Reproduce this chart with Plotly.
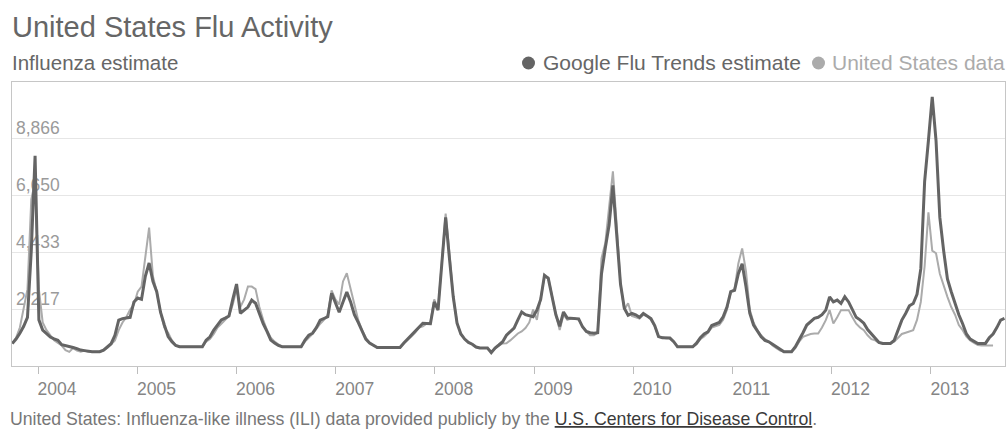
import pandas as pd
import plotly.graph_objects as go

# ---- data (biweekly samples) ----
start_date = "2003-09-28"

google = [
    880, 1050, 1280, 1550, 1900, 4500, 8200, 1800, 1400, 1250,
    1130, 1060, 1000, 830, 800, 760, 720, 680, 620, 600,
    570, 560, 560, 560, 620, 750, 870, 1200, 1790, 1850,
    1870, 1900, 2500, 2650, 2600, 3500, 4020, 3300, 2900, 2100,
    1600, 1150, 950, 800, 750, 750, 750, 750, 750, 750,
    750, 1010, 1140, 1400, 1600, 1800, 1870, 1950, 2600, 3200,
    2060, 2200, 2300, 2570, 2450, 2050, 1650, 1350, 1010, 900,
    800, 750, 750, 750, 750, 750, 750, 1010, 1200, 1280,
    1500, 1790, 1850, 1920, 2840, 2500, 2100, 2500, 2890, 2500,
    2000, 1700, 1350, 1050, 900, 800, 720, 720, 720, 720,
    720, 720, 720, 900, 1050, 1200, 1330, 1480, 1670, 1660,
    1650, 2500, 2180, 4000, 5800, 4200, 2700, 1670, 1250, 1050,
    920, 850, 740, 700, 700, 700, 520, 700, 820, 950,
    1200, 1330, 1480, 1800, 2110, 2000, 1950, 1920, 2180, 2600,
    3540, 3420, 2700, 2000, 1550, 2110, 1870, 1860, 1850, 1840,
    1530, 1350, 1300, 1280, 1300, 3600, 4600, 5500, 7050, 5000,
    3200, 2250, 1980, 2050, 2000, 1900, 2050, 1950, 1850, 1580,
    1150, 1100, 1090, 1090, 950, 750, 750, 750, 750, 750,
    890, 1100, 1250, 1330, 1580, 1640, 1700, 1920, 2300, 2900,
    2950, 3600, 3990, 3100, 2060, 1600, 1350, 1140, 1000, 945,
    850, 750, 650, 560, 560, 560, 750, 1010, 1300, 1600,
    1750, 1860, 1900, 2000, 2180, 2700, 2500, 2570, 2440, 2700,
    2500, 2200, 1900, 1800, 1670, 1420, 1250, 1090, 920, 880,
    880, 880, 1000, 1400, 1790, 2050, 2350, 2440, 2800, 3800,
    7200, 8800, 10500, 8800, 5800, 4500, 3400, 2900, 2400, 2000,
    1650, 1250, 1050, 950, 880, 880, 880, 1100, 1250, 1500,
    1790, 1860,
]

us_data = [
    880, 1100, 1500, 2200, 3000, 6500, 7200, 3000, 1700, 1400,
    1200, 1000, 900, 800, 620, 550, 700, 600, 560, 600,
    560, 560, 560, 560, 600, 700, 850, 1000, 1400, 1700,
    1900, 2200, 2400, 2900, 3100, 4200, 5400, 3500, 2900, 2100,
    1500, 1300, 1000, 800, 750, 750, 750, 750, 750, 750,
    750, 950, 1050, 1250, 1500, 1650, 1800, 1950, 2400, 3000,
    2300, 2600, 3100, 3100, 3000, 2300, 1800, 1400, 1100, 950,
    850, 750, 750, 750, 750, 750, 750, 950, 1100, 1250,
    1450, 1650, 1800, 2000, 2950, 2600, 2400, 3300, 3620, 3000,
    2300, 1800, 1400, 1100, 900, 800, 720, 720, 720, 720,
    720, 720, 720, 880, 1000, 1150, 1300, 1500, 1550, 1650,
    1700, 2600, 2200, 4200, 5950, 4400, 2700, 1700, 1250, 1050,
    920, 850, 740, 700, 700, 700, 560, 700, 800, 880,
    890, 1000, 1150, 1270, 1350, 1480, 1700, 2200, 1800, 2600,
    3500, 3450, 2700, 2000, 1400, 2000, 1800, 1850, 1850, 1800,
    1550, 1350, 1200, 1200, 1300, 4200, 4800, 6200, 7600, 5500,
    3200, 2200, 2450, 1950, 1900, 1850, 2000, 1950, 1800, 1550,
    1150, 1100, 1080, 1080, 950, 750, 750, 750, 750, 750,
    850, 1050, 1150, 1300, 1500, 1550, 1600, 1800, 2200, 2900,
    3000, 4000, 4590, 3700, 2200, 1700, 1400, 1200, 1050, 950,
    800, 700, 600, 560, 560, 560, 700, 950, 1140, 1200,
    1250, 1270, 1270, 1500, 1790, 2180, 1660, 1900, 2180, 2180,
    2180, 1900, 1650, 1500, 1400, 1200, 1050, 1000, 900, 880,
    880, 880, 950, 1100, 1250, 1300, 1350, 1400, 1800, 2500,
    3900, 6000, 4500, 4400, 3600, 3100, 2700, 2300, 2000, 1600,
    1400, 1150, 1000, 900, 820, 800, 800, 800, 800, None,
    None, None,
]

ytick_vals = [2217, 4433, 6650, 8866]
ytick_text = ["2,217", "4,433", "6,650", "8,866"]
year_labels = ["2004", "2005", "2006", "2007", "2008", "2009", "2010", "2011", "2012", "2013"]

dates = pd.date_range(start_date, periods=len(google), freq="14D")

# ---- geometry (screenshot pixels; page body margin is removed below) ----
W, H = 1008, 435
PLOT_L, PLOT_R, PLOT_T, PLOT_B = 12, 1005, 82, 366
L, R, T, B = PLOT_L, W - PLOT_R, PLOT_T, H - PLOT_B
PW, PH = W - L - R, H - T - B


def px(xp):
    return (xp - PLOT_L) / PW


def py(yp):
    return 1 - (yp - PLOT_T) / PH


FONT = "Liberation Sans, Arial, Helvetica, sans-serif"
DARK = "#646464"
LIGHT = "#ababab"

fig = go.Figure()
fig.add_trace(go.Scatter(
    x=dates, y=us_data, mode="lines", name="United States data",
    line=dict(color=LIGHT, width=2), connectgaps=False, hoverinfo="skip"))
fig.add_trace(go.Scatter(
    x=dates, y=google, mode="lines", name="Google Flu Trends estimate",
    line=dict(color=DARK, width=3), hoverinfo="skip"))

fig.update_layout(
    width=W, height=H,
    margin=dict(l=L, r=R, t=T, b=B),
    paper_bgcolor="white", plot_bgcolor="white",
    font=dict(family=FONT),
    showlegend=False,
)

fig.update_xaxes(
    type="date",
    range=["2003-09-27", "2013-10-01"],
    tickvals=[f"{y}-01-01" for y in year_labels],
    ticktext=year_labels,
    ticks="outside", ticklen=7, tickcolor="#bdbdbd", tickwidth=1,
    showline=True, linecolor="#c6c6c6", linewidth=1, mirror=True,
    showgrid=False, zeroline=False,
    tickfont=dict(size=17.5, color="#858585", family=FONT),
    ticklabelshift=19,
)

fig.update_yaxes(
    range=[0, 11083],
    tickvals=ytick_vals,
    showticklabels=False,
    showgrid=True, gridcolor="#e6e6e6", gridwidth=1,
    showline=True, linecolor="#c6c6c6", linewidth=1, mirror=True,
    zeroline=False, ticks="",
)

# y labels: invisible line shapes with labels, drawn beneath the traces
shapes = []
for v, t in zip(ytick_vals, ytick_text):
    shapes.append(dict(
        type="line", xref="paper", yref="y", x0=2 / PW, x1=0.3, y0=v, y1=v,
        line=dict(color="rgba(0,0,0,0)", width=1), layer="below",
        label=dict(text=t, textposition="start", xanchor="left", yanchor="bottom",
                   textangle=0, padding=2,
                   font=dict(size=17.5, color="#9a9a9a", family=FONT))))

# legend dots
for cx, col in ((528.5, DARK), (818.5, LIGHT)):
    shapes.append(dict(
        type="circle", xref="paper", yref="paper",
        xsizemode="pixel", ysizemode="pixel",
        xanchor=px(cx), yanchor=py(63),
        x0=-6.5, x1=6.5, y0=-6.5, y1=6.5,
        fillcolor=col, line=dict(width=0), layer="above"))

fig.update_layout(shapes=shapes)

annotations = [
    dict(text="United States Flu Activity", x=px(10), y=py(27), xanchor="left",
         font=dict(size=29, color="#666666", family=FONT)),
    dict(text="Influenza estimate", x=px(10), y=py(62), xanchor="left",
         font=dict(size=20.5, color="#666666", family=FONT)),
    dict(text="Google Flu Trends estimate", x=px(541), y=py(62), xanchor="left",
         font=dict(size=21, color="#666666", family=FONT)),
    dict(text="United States data", x=px(1007), y=py(62), xanchor="right",
         font=dict(size=21, color=LIGHT, family=FONT)),
    dict(text="United States: Influenza-like illness (ILI) data provided publicly by the "
              "<span style='color:#3a3a3a'><u>U.S. Centers for Disease Control</u></span>.",
         x=px(8), y=py(419), xanchor="left",
         font=dict(size=17.7, color="#777777", family=FONT)),
]
for a in annotations:
    a.update(xref="paper", yref="paper", yanchor="middle", showarrow=False)

fig.update_layout(annotations=annotations)

fig.write_html(
    "out.html",
    config={"displayModeBar": False},
    post_script="document.body.style.margin='0';document.body.style.overflow='hidden';",
)
